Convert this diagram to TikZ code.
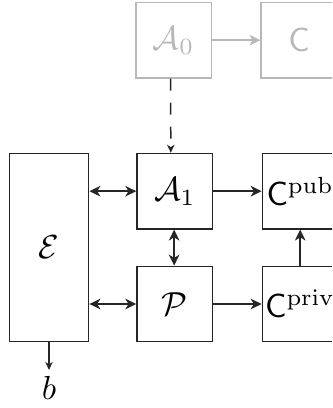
\documentclass[tikz,border=0pt]{standalone}
\usetikzlibrary{arrows.meta}
\definecolor{ink}{gray}{0.15}
\definecolor{faint}{gray}{0.72}
\begin{document}
\begin{tikzpicture}[x=0.3pt,y=-0.3pt,
  box/.style={draw=ink, line width=0.45pt, minimum width=22.7pt, minimum height=22.6pt, inner sep=0pt, text=black},
  ghost/.style={box, draw=faint, text=faint},
  tip/.tip={Stealth[length=3.3pt,width=3.2pt,inset=1pt]},
  smalltip/.tip={Stealth[length=2.4pt,width=2.2pt,inset=0.7pt]},
  conn/.style={draw=ink, line width=0.45pt, -tip},
  biconn/.style={draw=ink, line width=0.45pt, tip-tip},
]
\useasboundingbox (0,0) rectangle (332,408);
\clip (0,0) rectangle (332,408);
% faded top row
\node[ghost] (A0) at (173.6,40.2) {$\mathcal{A}_0$};
\node[ghost] (C) at (299,40.2) {$\mathsf{C}$};
% main nodes
\node[box] (A1) at (174.8,191.2) {$\mathcal{A}_1$};
\node[box] (Cpub) at (300.2,191.2) {$\mathsf{C}^{\mathrm{pub}}$};
\node[box, minimum width=23.7pt, minimum height=56.3pt] (E) at (49.2,247.5) {$\mathcal{E}$};
\node[box] (P) at (174.8,304) {$\mathcal{P}$};
\node[box] (Cpriv) at (300.2,304) {$\mathsf{C}^{\mathrm{priv}}$};
\node[inner sep=0pt, anchor=north] (b) at (49,376) {$b$};
\coordinate (bend) at (49,370);
% connectors
\draw[draw=faint, line width=0.45pt, -tip] (A0) -- (C);
\draw[draw=ink, line width=0.45pt, dash pattern=on 3.6pt off 3.6pt, -smalltip] ([xshift=-0.9pt]A0.south) -- ([xshift=-1.2pt]A1.north);
\draw[biconn] (E.east |- A1) -- (A1);
\draw[biconn] (E.east |- P) -- (P);
\draw[biconn] ([xshift=-0.2pt]A1.south) -- ([xshift=-0.2pt]P.north);
\draw[conn] (A1) -- (Cpub);
\draw[conn] (P) -- (Cpriv);
\draw[conn] (Cpriv) -- (Cpub);
\draw[conn, -smalltip] (E.south -| bend) -- (bend);
\end{tikzpicture}
\end{document}
